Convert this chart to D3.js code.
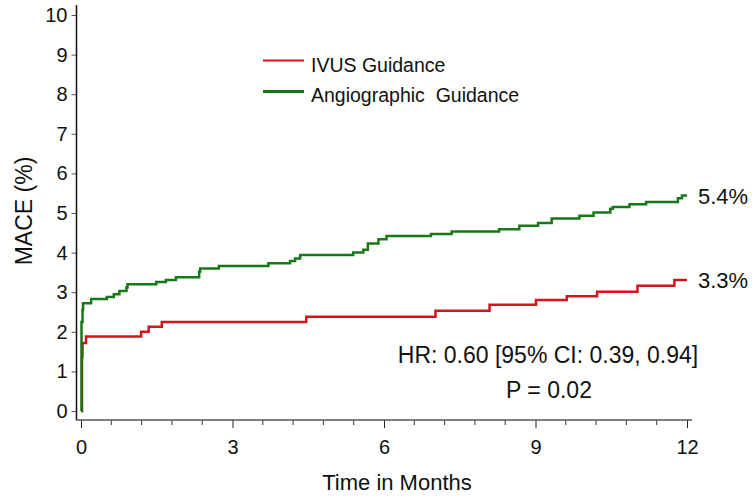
<!DOCTYPE html>
<html>
<head>
<meta charset="utf-8">
<script src="https://cdn.jsdelivr.net/npm/d3@7"></script>
<style>
  body { margin: 0; background: #fff; }
  svg { font-family: "Liberation Sans", Arial, sans-serif; }
</style>
</head>
<body>
<svg id="chart" width="752" height="497"></svg>
<script>
// step points: [month, MACE %]
const ivusSteps = [
    [0, 0], [0.02, 1.37], [0.03, 1.72], [0.1, 1.88], [1.19, 2.0], [1.34, 2.13],
    [1.6, 2.25], [4.46, 2.38], [7.02, 2.53], [8.09, 2.68], [9.01, 2.8],
    [9.62, 2.9], [10.22, 3.01], [11.02, 3.16], [11.75, 3.31], [12.0, 3.31]
];
const angioSteps = [
    [0, 0], [0.01, 2.25], [0.03, 2.55], [0.04, 2.72], [0.2, 2.83], [0.51, 2.88],
    [0.65, 2.95], [0.76, 3.03], [0.9, 3.12], [0.92, 3.2], [1.49, 3.26], [1.68, 3.31],
    [1.88, 3.38], [2.34, 3.52], [2.36, 3.6], [2.73, 3.66], [3.71, 3.73], [4.14, 3.79],
    [4.24, 3.85], [4.34, 3.94], [5.39, 4.0], [5.59, 4.07], [5.68, 4.23], [5.89, 4.34],
    [6.05, 4.42], [6.93, 4.47], [7.34, 4.53], [8.28, 4.59], [8.68, 4.68], [9.05, 4.75],
    [9.32, 4.86], [9.87, 4.93], [10.15, 5.01], [10.48, 5.11], [10.53, 5.15],
    [10.86, 5.22], [11.19, 5.28], [11.82, 5.37], [11.9, 5.44], [12.0, 5.44]
];
const xMajorTicks = [0, 3, 6, 9, 12];
const xMinorTicks = [0.6, 1.2, 1.8, 2.4, 3.6, 4.2, 4.8, 5.4, 6.6, 7.2, 7.8, 8.4, 9.6, 10.2, 10.8, 11.4];
const yTicks = [0, 1, 2, 3, 4, 5, 6, 7, 8, 9, 10];
const seriesNames = ['IVUS Guidance', 'Angiographic  Guidance'];
const endLabels = ['3.3%', '5.4%'];

const RED = '#d4141c';
const GREEN = '#167816';

const svg = d3.select('#chart');
const x = d3.scaleLinear().domain([0, 12]).range([81, 687]);
const y = d3.scaleLinear().domain([0, 10]).range([411, 15]);
const axisY = 420;
const axisX = 76.5;

// y axis
const yAxis = svg.append('g')
    .attr('transform', `translate(${axisX},0)`)
    .call(d3.axisLeft(y).tickValues(yTicks).tickSize(5).tickPadding(4).tickFormat(d3.format('d')));
yAxis.select('.domain').remove();
yAxis.selectAll('.tick line').attr('stroke', '#555');
yAxis.selectAll('.tick text').attr('font-size', 20).attr('fill', '#111')
    .attr('font-family', '"Liberation Sans", Arial, sans-serif');
svg.append('line')
    .attr('x1', axisX).attr('x2', axisX).attr('y1', 5).attr('y2', axisY)
    .attr('stroke', '#111').attr('stroke-width', 1.5);

// x axis
const xAxis = svg.append('g')
    .attr('transform', `translate(0,${axisY})`)
    .call(d3.axisBottom(x).tickValues(xMajorTicks).tickSize(8).tickPadding(12).tickFormat(d3.format('d')));
xAxis.select('.domain').remove();
xAxis.selectAll('.tick line').attr('stroke', '#222');
xAxis.selectAll('.tick text').attr('font-size', 20).attr('fill', '#111')
    .attr('font-family', '"Liberation Sans", Arial, sans-serif');
svg.append('g').selectAll('line')
    .data(xMinorTicks)
    .enter().append('line')
    .attr('x1', d => x(d)).attr('x2', d => x(d))
    .attr('y1', axisY).attr('y2', axisY + 5)
    .attr('stroke', '#333');
svg.append('line')
    .attr('x1', axisX - 0.75).attr('x2', 692).attr('y1', axisY).attr('y2', axisY)
    .attr('stroke', '#555').attr('stroke-width', 1.5);

// axis titles
svg.append('text')
    .attr('transform', 'translate(32,211) rotate(-90)')
    .attr('text-anchor', 'middle')
    .attr('font-size', 23).attr('fill', '#111')
    .text('MACE (%)');
svg.append('text')
    .attr('x', 397).attr('y', 490)
    .attr('text-anchor', 'middle')
    .attr('font-size', 22).attr('fill', '#111')
    .text('Time in Months');

// curves
const stepLine = d3.line()
    .x(d => x(d[0]))
    .y(d => y(d[1]))
    .curve(d3.curveStepAfter);

svg.append('path')
    .datum(ivusSteps)
    .attr('d', stepLine)
    .attr('fill', 'none').attr('stroke', RED).attr('stroke-width', 2.5);
svg.append('path')
    .datum(angioSteps)
    .attr('d', stepLine)
    .attr('fill', 'none').attr('stroke', GREEN).attr('stroke-width', 2.5);

// end labels
const lastIvus = ivusSteps[ivusSteps.length - 1];
const lastAngio = angioSteps[angioSteps.length - 1];
svg.append('text')
    .attr('x', x(lastIvus[0]) + 11).attr('y', y(lastIvus[1]) + 8)
    .attr('font-size', 22).attr('fill', '#111')
    .text(endLabels[0]);
svg.append('text')
    .attr('x', x(lastAngio[0]) + 11).attr('y', y(lastAngio[1]) + 8)
    .attr('font-size', 22).attr('fill', '#111')
    .text(endLabels[1]);

// legend
const legend = svg.append('g');
legend.append('line')
    .attr('x1', 263).attr('x2', 304).attr('y1', 60.5).attr('y2', 60.5)
    .attr('stroke', RED).attr('stroke-width', 1.8);
legend.append('text')
    .attr('x', 311).attr('y', 72)
    .attr('font-size', 19.5).attr('fill', '#111')
    .attr('xml:space', 'preserve').style('white-space', 'pre')
    .text(seriesNames[0]);
legend.append('line')
    .attr('x1', 263).attr('x2', 304).attr('y1', 91.5).attr('y2', 91.5)
    .attr('stroke', GREEN).attr('stroke-width', 2.8);
legend.append('text')
    .attr('x', 311).attr('y', 102)
    .attr('font-size', 19.5).attr('fill', '#111')
    .attr('xml:space', 'preserve').style('white-space', 'pre')
    .text(seriesNames[1]);

// hazard ratio note
svg.append('text')
    .attr('x', 548).attr('y', 363)
    .attr('text-anchor', 'middle')
    .attr('font-size', 23).attr('fill', '#111')
    .text('HR: 0.60 [95% CI: 0.39, 0.94]');
svg.append('text')
    .attr('x', 549).attr('y', 398)
    .attr('text-anchor', 'middle')
    .attr('font-size', 23).attr('fill', '#111')
    .text('P = 0.02');
</script>
</body>
</html>
